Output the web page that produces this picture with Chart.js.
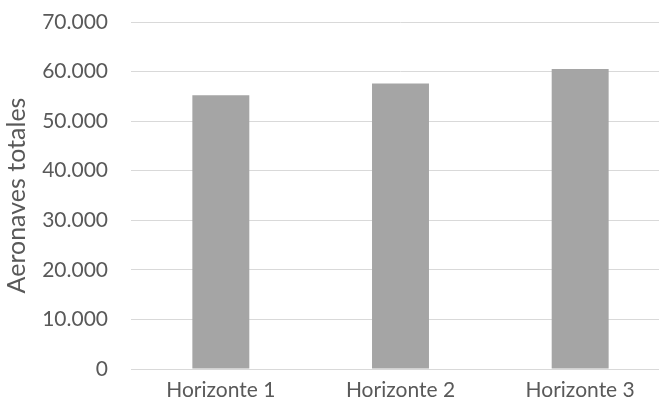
<!DOCTYPE html>
<html>
<head>
<meta charset="utf-8">
<script src="https://cdn.jsdelivr.net/npm/chart.js@4/dist/chart.umd.min.js"></script>
<style>
  html, body { margin: 0; padding: 0; background: #ffffff; overflow: hidden; }
  #wrap { width: 670px; height: 410px; }
</style>
</head>
<body>
<div id="wrap"><canvas id="chart" width="670" height="410"></canvas></div>
<script>
// Total aircraft per planning horizon
const categories = ['Horizonte 1', 'Horizonte 2', 'Horizonte 3'];
const aeronavesTotales = [55200, 57600, 60500];
const yTicks = [0, 10000, 20000, 30000, 40000, 50000, 60000, 70000];

const textColor = '#595959';
const gridColor = '#d9d9d9';
const barColor = '#a5a5a5';
const fontFamily = 'Lato, "Open Sans", sans-serif';

// thousands separator as a dot
function fmt(v) {
  return String(v).replace(/\B(?=(\d{3})+(?!\d))/g, '.');
}

new Chart(document.getElementById('chart'), {
  type: 'bar',
  data: {
    labels: categories,
    datasets: [{
      label: 'Aeronaves totales',
      data: aeronavesTotales,
      backgroundColor: barColor,
      borderWidth: 0,
      barPercentage: 0.317,
      categoryPercentage: 1.0
    }]
  },
  options: {
    responsive: false,
    animation: false,
    layout: { padding: { top: 0, right: 0, bottom: 7, left: 2 } },
    plugins: {
      legend: { display: false },
      tooltip: { enabled: false }
    },
    scales: {
      x: {
        afterFit: (axis) => { axis.height = 34; },
        grid: { display: false, drawTicks: false },
        border: { display: true, color: gridColor, width: 1 },
        ticks: {
          color: textColor,
          font: { family: fontFamily, size: 21 },
          padding: 9
        }
      },
      y: {
        min: yTicks[0],
        max: yTicks[yTicks.length - 1],
        afterBuildTicks: (axis) => { axis.ticks = yTicks.map(v => ({ value: v })); },
        afterFit: (axis) => {
          axis.width = 129;
          axis.paddingTop = 22;
          axis.paddingBottom = 10;
        },
        grid: { color: gridColor, lineWidth: 1, drawTicks: false },
        border: { display: false },
        ticks: {
          color: textColor,
          font: { family: fontFamily, size: 21 },
          padding: 23,
          callback: (v) => fmt(v)
        },
        title: {
          display: true,
          text: 'Aeronaves totales',
          color: textColor,
          font: { family: fontFamily, size: 25 },
          padding: { top: 0, bottom: 10 }
        }
      }
    }
  }
});
</script>
</body>
</html>
